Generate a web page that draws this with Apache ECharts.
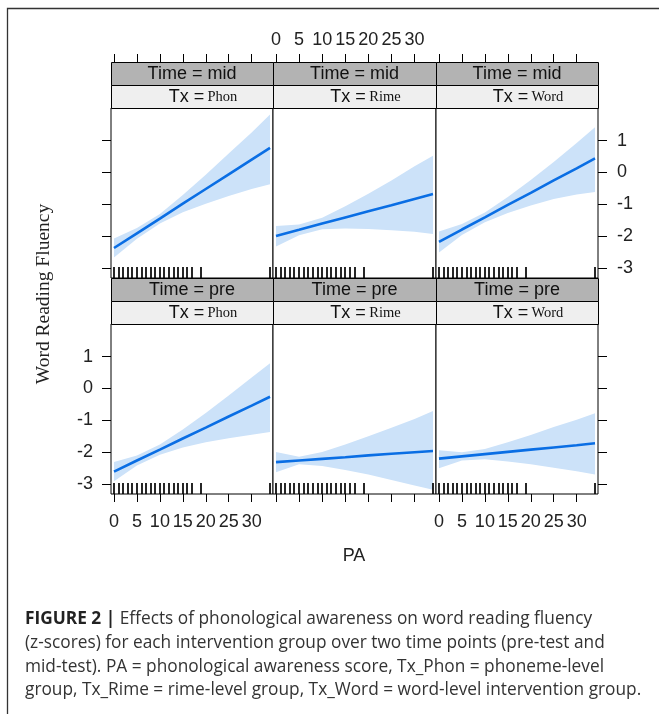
<!DOCTYPE html>
<html><head><meta charset="utf-8">
<script src="https://cdn.jsdelivr.net/npm/echarts@6/dist/echarts.min.js"></script>
<style>html,body{margin:0;padding:0;background:#fff}#c{width:659px;height:714px}</style>
</head><body><div id="c"></div>
<script>
// ---- data ----
const paX = [0, 5, 10, 15, 20, 25, 30, 34];
const xTicks = [0, 5, 10, 15, 20, 25, 30];
const yTicks = [-3, -2, -1, 0, 1];
const rugPA = [0,1,2,3,4,5,6,7,8,9,10,11,12,13,14,15,16,17,19,34];
const timeLevels = ['mid', 'pre'];
const txLevels = ['Phon', 'Rime', 'Word'];

const fitMidPhon   = [-2.37, -1.91, -1.45, -0.98, -0.52, -0.06, 0.40, 0.77];
const upperMidPhon = [-2.07, -1.74, -1.30, -0.71, -0.07, 0.59, 1.25, 1.82];
const lowerMidPhon = [-2.67, -2.08, -1.60, -1.25, -0.98, -0.74, -0.52, -0.37];

const fitMidRime   = [-1.99, -1.80, -1.60, -1.41, -1.22, -1.03, -0.83, -0.68];
const upperMidRime = [-1.68, -1.63, -1.42, -1.06, -0.67, -0.25, 0.19, 0.52];
const lowerMidRime = [-2.32, -1.97, -1.78, -1.76, -1.77, -1.81, -1.86, -1.93];

const fitMidWord   = [-2.18, -1.79, -1.41, -1.02, -0.64, -0.25, 0.13, 0.44];
const upperMidWord = [-1.85, -1.62, -1.26, -0.77, -0.24, 0.33, 0.92, 1.42];
const lowerMidWord = [-2.51, -1.96, -1.56, -1.27, -1.04, -0.83, -0.69, -0.61];

const fitPrePhon   = [-2.61, -2.26, -1.92, -1.57, -1.23, -0.88, -0.54, -0.26];
const upperPrePhon = [-2.31, -2.10, -1.76, -1.29, -0.77, -0.22, 0.34, 0.79];
const lowerPrePhon = [-2.91, -2.42, -2.08, -1.85, -1.69, -1.56, -1.45, -1.37];

const fitPreRime   = [-2.31, -2.26, -2.21, -2.16, -2.10, -2.05, -2.00, -1.96];
const upperPreRime = [-1.99, -2.14, -1.99, -1.76, -1.50, -1.23, -0.96, -0.71];
const lowerPreRime = [-2.63, -2.38, -2.43, -2.56, -2.70, -2.87, -3.04, -3.18];

const fitPreWord   = [-2.20, -2.13, -2.06, -1.99, -1.92, -1.85, -1.78, -1.72];
const upperPreWord = [-1.94, -2.00, -1.90, -1.69, -1.46, -1.21, -0.98, -0.78];
const lowerPreWord = [-2.50, -2.26, -2.22, -2.29, -2.38, -2.49, -2.60, -2.70];

const captionLines = [
  ['FIGURE 2 |', ' Effects of phonological awareness on word reading fluency'],
  ['', '(z-scores) for each intervention group over two time points (pre-test and'],
  ['', 'mid-test). PA = phonological awareness score, Tx_Phon = phoneme-level'],
  ['', 'group, Tx_Rime = rime-level group, Tx_Word = word-level intervention group.']
];

const panelData = {
  mid: { Phon: [fitMidPhon, lowerMidPhon, upperMidPhon],
         Rime: [fitMidRime, lowerMidRime, upperMidRime],
         Word: [fitMidWord, lowerMidWord, upperMidWord] },
  pre: { Phon: [fitPrePhon, lowerPrePhon, upperPrePhon],
         Rime: [fitPreRime, lowerPreRime, upperPreRime],
         Word: [fitPreWord, lowerPreWord, upperPreWord] }
};

// ---- layout ----
const X_MIN = -0.65, X_MAX = 34.65, Y_MIN = -3.31, Y_MAX = 2.02;
const colLeft = [111, 273, 436], colWidth = [162, 163, 162];
const rowTop = [108, 324], plotH = 170, stripH = 23;
const LINE_COL = '#0a6ee4', BAND_COL = '#cce2f9';
const SANS = 'Liberation Sans, Arial, sans-serif', SERIF = 'Liberation Serif, Times New Roman, serif';
const CAP = 'Open Sans, Liberation Sans, sans-serif';

const grid = [], xAxis = [], yAxis = [], series = [], graphic = [];

timeLevels.forEach((t, r) => {
  txLevels.forEach((tx, c) => {
    const g = r * 3 + c;
    grid.push({ left: colLeft[c], top: rowTop[r], width: colWidth[c], height: plotH,
      show: true, borderColor: '#000', borderWidth: 1, backgroundColor: '#fff', containLabel: false });
    const xCommon = { type: 'value', gridIndex: g, min: X_MIN, max: X_MAX,
      axisLine: { show: false, onZero: false }, splitLine: { show: false } };
    // bottom x axis
    xAxis.push(Object.assign({}, xCommon, { position: 'bottom',
      axisTick: { show: r === 1, inside: false, length: 8, customValues: xTicks, lineStyle: { color: '#000', width: 1 } },
      axisLabel: { show: r === 1 && c !== 1, customValues: xTicks, margin: 19, color: '#222', fontSize: 18, fontFamily: SANS }
    }));
    // top x axis (above strips)
    xAxis.push(Object.assign({}, xCommon, { position: 'top', offset: 2 * stripH,
      axisTick: { show: r === 0, inside: false, length: 8, customValues: xTicks, lineStyle: { color: '#000', width: 1 } },
      axisLabel: { show: r === 0 && c === 1, customValues: xTicks, margin: 13, color: '#222', fontSize: 18, fontFamily: SANS }
    }));
    const yCommon = { type: 'value', gridIndex: g, min: Y_MIN, max: Y_MAX,
      axisLine: { show: false, onZero: false }, splitLine: { show: false } };
    yAxis.push(Object.assign({}, yCommon, { position: 'left',
      axisTick: { show: c === 0, inside: false, length: 9, customValues: yTicks, lineStyle: { color: '#000', width: 1 } },
      axisLabel: { show: c === 0 && r === 1, customValues: yTicks, margin: 18, color: '#222', fontSize: 18, fontFamily: SANS }
    }));
    yAxis.push(Object.assign({}, yCommon, { position: 'right',
      axisTick: { show: c === 2, inside: false, length: 9, customValues: yTicks, lineStyle: { color: '#000', width: 1 } },
      axisLabel: { show: c === 2 && r === 0, customValues: yTicks, margin: 19, color: '#222', fontSize: 18, fontFamily: SANS }
    }));

    const [fit, lo, hi] = panelData[t][tx];
    // confidence band
    series.push({ type: 'custom', xAxisIndex: 2 * g, yAxisIndex: 2 * g, z: 1, silent: true,
      data: paX.map((x, i) => [x, lo[i], hi[i]]), encode: { x: 0, y: [1, 2] },
      renderItem: (params, api) => {
        if (params.dataIndex !== 0) return null;
        const pts = [];
        paX.forEach((x, i) => pts.push(api.coord([x, hi[i]])));
        for (let i = paX.length - 1; i >= 0; i--) pts.push(api.coord([paX[i], lo[i]]));
        return { type: 'polygon', shape: { points: pts }, style: { fill: BAND_COL, stroke: null } };
      }
    });
    // fitted line
    series.push({ type: 'line', xAxisIndex: 2 * g, yAxisIndex: 2 * g, z: 3, silent: true,
      data: paX.map((x, i) => [x, fit[i]]), showSymbol: false, symbol: 'none',
      lineStyle: { color: LINE_COL, width: 2.6 } });
    // rug
    series.push({ type: 'custom', xAxisIndex: 2 * g, yAxisIndex: 2 * g, z: 4, silent: true,
      data: rugPA.map(v => [v, Y_MIN]), encode: { x: 0, y: 1 },
      renderItem: (params, api) => {
        const p = api.coord([api.value(0), api.value(1)]);
        const x = Math.round(p[0]);
        return { type: 'line', shape: { x1: x, y1: p[1], x2: x, y2: p[1] - 11 }, style: { stroke: '#000', lineWidth: 1.7 } };
      }
    });

    // strips
    const sx = colLeft[c], sw = colWidth[c], sTop = rowTop[r] - 2 * stripH;
    graphic.push({ type: 'rect', z: 10, shape: { x: sx + 0.5, y: sTop + 0.5, width: sw, height: stripH },
      style: { fill: '#b3b3b3', stroke: '#000', lineWidth: 1 } });
    graphic.push({ type: 'rect', z: 10, shape: { x: sx + 0.5, y: sTop + stripH + 0.5, width: sw, height: stripH },
      style: { fill: '#efefef', stroke: '#000', lineWidth: 1 } });
    graphic.push({ type: 'text', z: 11, x: sx + sw / 2, y: sTop + stripH / 2 + 1,
      style: { text: 'Time = ' + t, fill: '#111', font: '18px ' + SANS, align: 'center', verticalAlign: 'middle' } });
    graphic.push({ type: 'text', z: 11, x: sx + sw / 2 + 11, y: sTop + stripH * 1.5 + 1,
      style: { text: '{a|Tx =} {b|' + tx + '}', fill: '#111', align: 'center', verticalAlign: 'middle',
        rich: { a: { fontSize: 18, fontFamily: SANS, fill: '#111' }, b: { fontSize: 14.5, fontFamily: SERIF, fill: '#111' } } } });
  });
});

// frame
graphic.push({ type: 'polyline', z: 20, shape: { points: [[7.5, 714], [7.5, 8.5], [659, 8.5]] },
  style: { stroke: '#333', lineWidth: 1.3, fill: null } });
// axis titles
graphic.push({ type: 'text', z: 20, x: 44, y: 294, rotation: Math.PI / 2,
  style: { text: 'Word Reading Fluency', font: '19.5px ' + SERIF, fill: '#222', align: 'center', verticalAlign: 'middle' } });
graphic.push({ type: 'text', z: 20, x: 354, y: 556,
  style: { text: 'PA', font: '18px ' + SANS, fill: '#222', align: 'center', verticalAlign: 'middle' } });
// caption
const capY = [619, 643, 667, 690];
captionLines.forEach((ln, i) => {
  graphic.push({ type: 'text', z: 20, x: 25, y: capY[i],
    style: { text: (ln[0] ? '{b|' + ln[0] + '}' : '') + '{n|' + ln[1] + '}', align: 'left', verticalAlign: 'middle',
      rich: { b: { fontSize: 17.3, fontFamily: CAP, fontWeight: 'bold', fill: '#222' },
              n: { fontSize: 17.3, fontFamily: CAP, fill: '#333' } } } });
});

const chart = echarts.init(document.getElementById('c'), null, { renderer: 'canvas' });
chart.setOption({ animation: false, backgroundColor: '#fff', grid, xAxis, yAxis, series, graphic });
</script></body></html>
